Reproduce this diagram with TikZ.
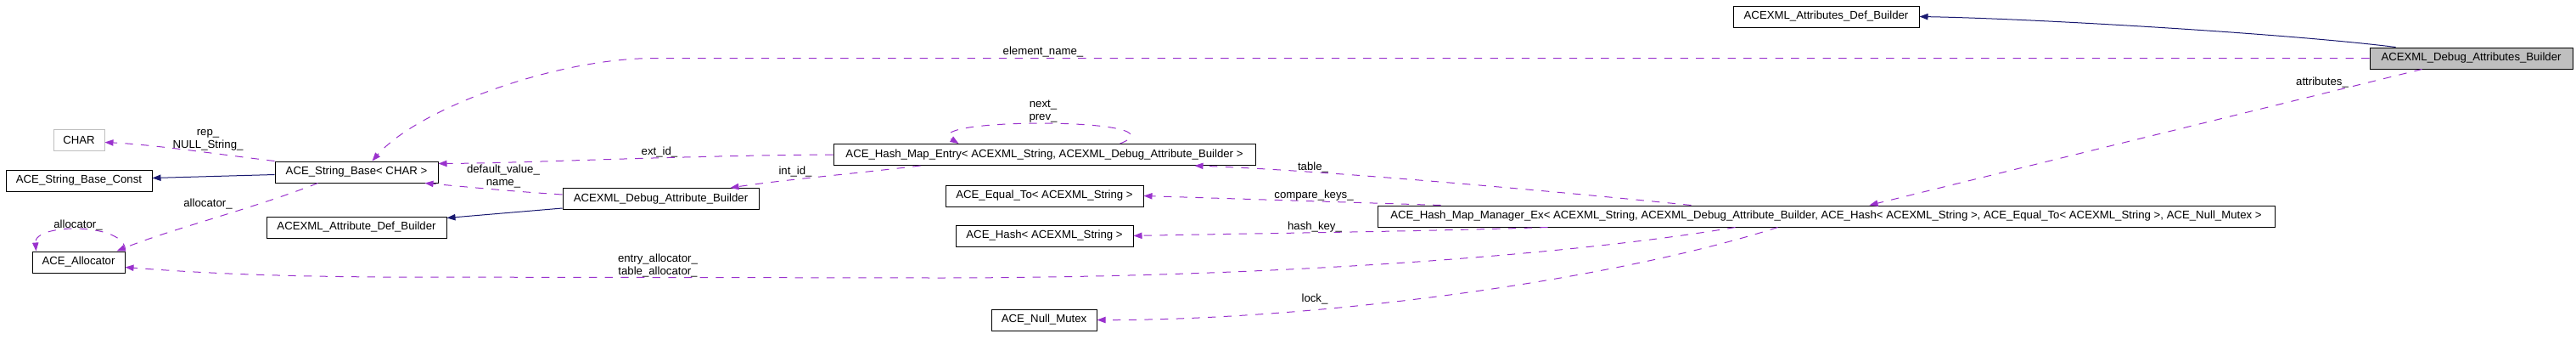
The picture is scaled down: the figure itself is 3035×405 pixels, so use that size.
\documentclass[tikz,border=0pt]{standalone}
\usepackage{xcolor}
\usepackage{fontspec}
\setmainfont{Liberation Sans}
\usepackage{tikz}
\usetikzlibrary{positioning,calc,arrows.meta}
\definecolor{membcol}{HTML}{9A32CD}
\definecolor{inhcol}{HTML}{191970}
\definecolor{boxgray}{HTML}{BFBFBF}

\begin{document}
\begin{tikzpicture}[x=0.75pt, y=-0.75pt,
    every node/.style={font=\fontsize{9.9}{11.25}\selectfont, inner sep=0pt},
    cls/.style={draw=black, line width=0.75pt, minimum height=18.75pt, minimum width=#1*0.75pt},
    memb/.style={draw=membcol, line width=0.75pt, dash pattern=on 7pt off 7pt, -{Triangle[length=7.5pt,width=5.5pt]}},
    inh/.style={draw=inhcol, line width=0.75pt, -{Triangle[length=7.5pt,width=5.5pt]}},
    lbl/.style={align=center}]
    \useasboundingbox (0,0) rectangle (3035,405);

    \node[cls=219] (attrsdef) at (2151.5,19.5) {ACEXML\_Attributes\_Def\_Builder};
    \node[cls=239, fill=boxgray] (dbgattrs) at (2911.5,68.5) {ACEXML\_Debug\_Attributes\_Builder};
    \node[cls=60, draw=boxgray] (chr) at (93,164.5) {CHAR};
    \node[cls=172] (strconst) at (93,212.5) {ACE\_String\_Base\_Const};
    \node[cls=192] (strbase) at (420,202.5) {ACE\_String\_Base< CHAR >};
    \node[cls=212] (attrdef) at (420,267.5) {ACEXML\_Attribute\_Def\_Builder};
    \node[cls=109] (alloc) at (92.5,308.5) {ACE\_Allocator};
    \node[cls=231] (dbgattr) at (778.5,234) {ACEXML\_Debug\_Attribute\_Builder};
    \node[cls=497] (entry) at (1230.5,182) {ACE\_Hash\_Map\_Entry< ACEXML\_String, ACEXML\_Debug\_Attribute\_Builder >};
    \node[cls=233] (equal) at (1230.5,230.5) {ACE\_Equal\_To< ACEXML\_String >};
    \node[cls=209] (hsh) at (1230.5,277.5) {ACE\_Hash< ACEXML\_String >};
    \node[cls=1057] (mgr) at (2151.5,254.5) {ACE\_Hash\_Map\_Manager\_Ex< ACEXML\_String, ACEXML\_Debug\_Attribute\_Builder, ACE\_Hash< ACEXML\_String >, ACE\_Equal\_To< ACEXML\_String >, ACE\_Null\_Mutex >};
    \node[cls=124] (mutex) at (1230,376.5) {ACE\_Null\_Mutex};

    \draw[inh] ($(dbgattrs.north west)+(31,0)$) .. controls (2700,40) and (2400,22) .. (attrsdef.east);
    \draw[inh] ($(strbase.west)+(0,3)$) -- ($(strconst.east)+(0,-3)$);
    \draw[inh] ($(dbgattr.south west)+(0,-2)$) -- ($(attrdef.north east)+(0,2)$);

    \draw[memb] (dbgattrs.west) -- (770,68.5) .. controls (650,69) and (490,130) .. ($(strbase.north west)+(115,0)$);
    \draw[memb] ($(dbgattrs.south west)+(62,0)$) -- ($(mgr.north west)+(580,0)$);
    \draw[memb] (strbase.north west) .. controls (260,182) and (180,170) .. ($(chr.east)+(0,3)$);
    \draw[memb] ($(strbase.south west)+(51,0)$) .. controls (300,245) and (200,270) .. ($(alloc.north east)+(-10,0)$);
    \draw[memb] (alloc.north east) .. controls (150,262) and (40,262) .. ($(alloc.north west)+(5,0)$);
    \draw[memb] ($(dbgattr.north west)+(0,8)$) .. controls (600,225) and (540,219) .. ($(strbase.south east)+(-16,0)$);
    \draw[memb] (entry.west) .. controls (800,183) and (620,192) .. ($(strbase.north east)+(0,3)$);
    \draw[memb] ($(entry.south west)+(103,0)$) .. controls (1000,205) and (920,212) .. ($(dbgattr.north west)+(198,0)$);
    \draw[memb] ($(entry.north west)+(338,0)$) .. controls (1400,138) and (1080,138) .. ($(entry.north west)+(148,0)$);
    \draw[memb] ($(mgr.north west)+(370,0)$) .. controls (1800,222) and (1550,200) .. ($(entry.south west)+(426,0)$);
    \draw[memb] ($(mgr.north west)+(75,0)$) -- (equal.east);
    \draw[memb] ($(mgr.south west)+(201,0)$) .. controls (1650,273) and (1450,275) .. (hsh.east);
    \draw[memb] ($(mgr.south west)+(422,0)$) .. controls (1850,300) and (1500,327) .. (1100,327) -- (450,326) .. controls (300,325) and (220,320) .. ($(alloc.east)+(0,6)$);
    \draw[memb] ($(mgr.south west)+(472,0)$) .. controls (1900,330) and (1550,377) .. (mutex.east);

    \node (lelem) at (1229,61) {element\_name\_};
    \node (lattrs) at (2736,97) {attributes\_};
    \node[lbl] (lrep) at (245,164.5) {rep\_\\NULL\_String\_};
    \node (lalloc) at (245,240) {allocator\_};
    \node (lself) at (92,265) {allocator\_};
    \node[lbl] (ldef) at (593,207.5) {default\_value\_\\name\_};
    \node (lext) at (777,179) {ext\_id\_};
    \node (lint) at (937,202) {int\_id\_};
    \node[lbl] (lnext) at (1229,131.5) {next\_\\prev\_};
    \node (ltable) at (1547,197) {table\_};
    \node (lcmp) at (1548,230) {compare\_keys\_};
    \node (lhash) at (1549,267) {hash\_key\_};
    \node[lbl] (lentry) at (775,312.5) {entry\_allocator\_\\table\_allocator\_};
    \node (llock) at (1549,352) {lock\_};
\end{tikzpicture}
\end{document}
